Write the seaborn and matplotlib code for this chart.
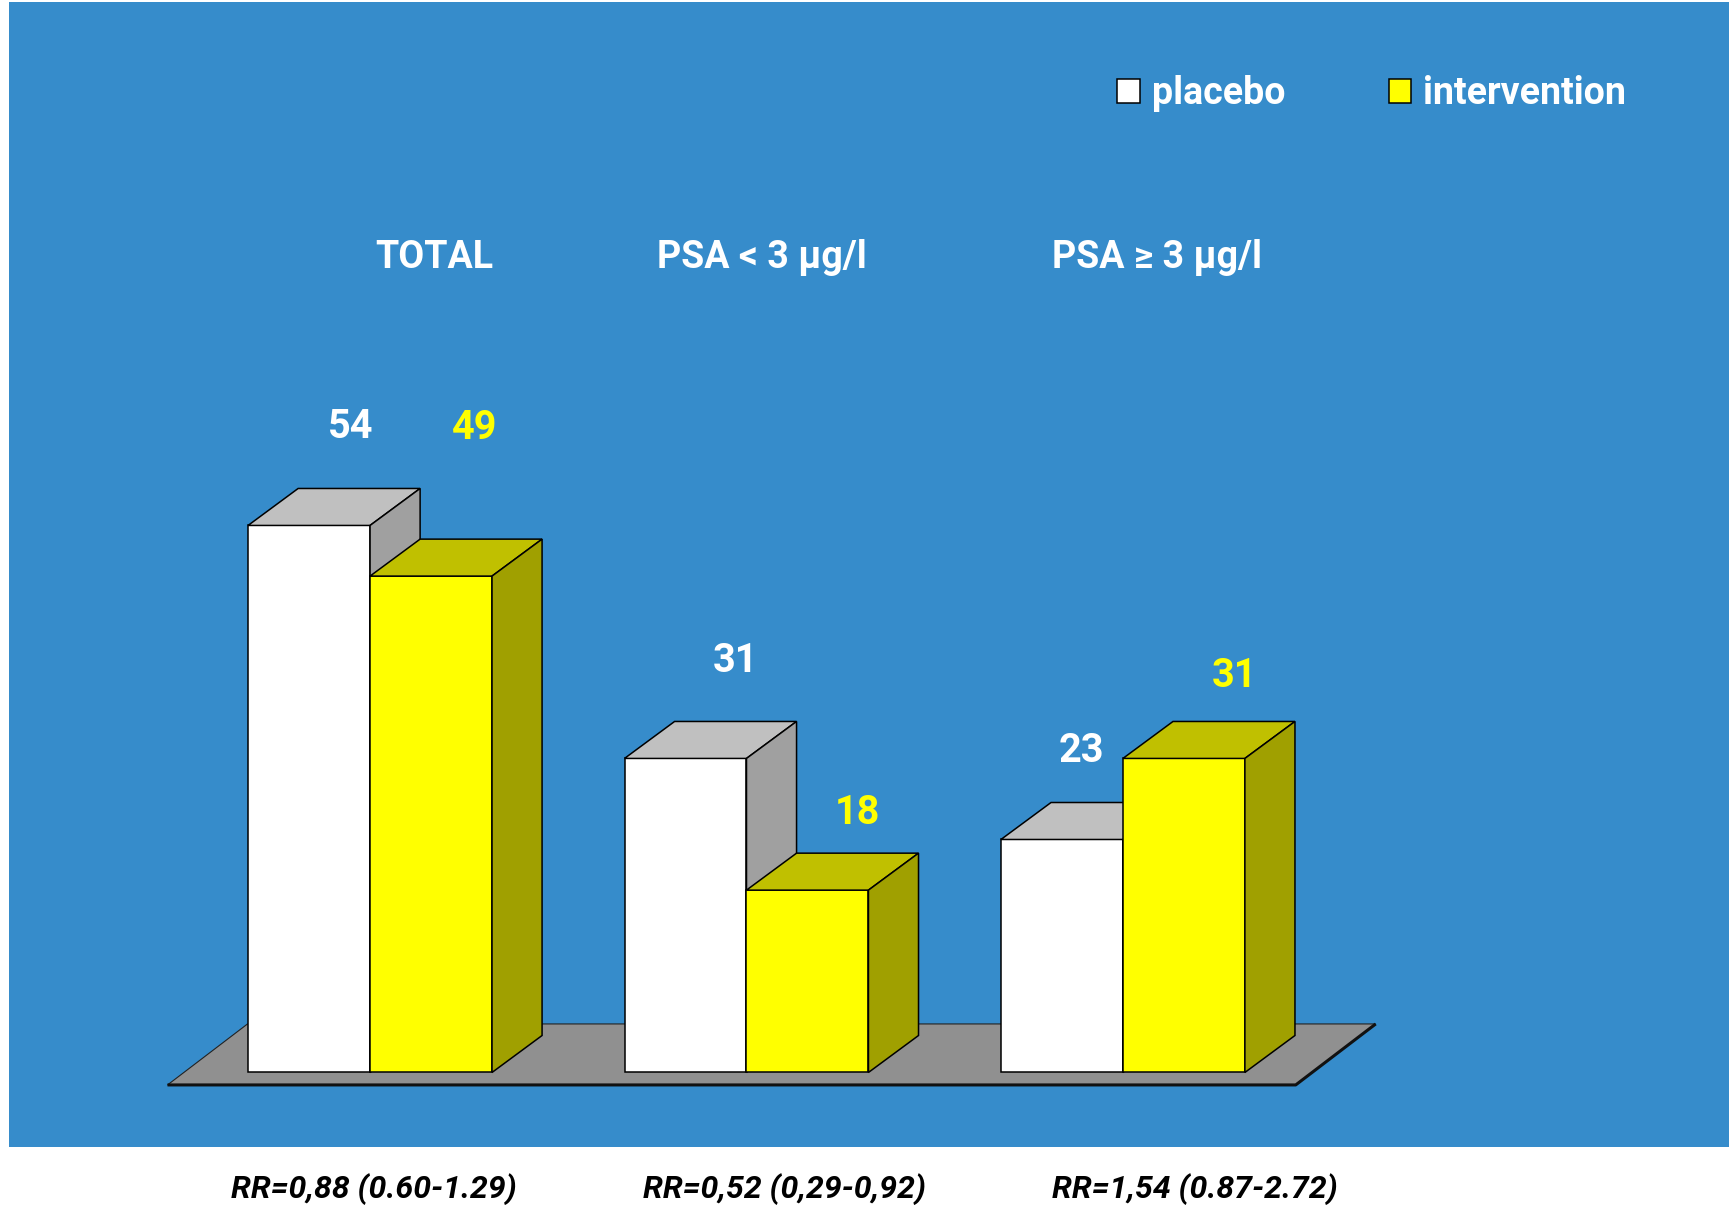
import numpy as np
import pandas as pd
import seaborn as sns
import matplotlib.pyplot as plt
from matplotlib.patches import Polygon, Rectangle

# data
groups = ['TOTAL', 'PSA < 3 µg/l', 'PSA ≥ 3 µg/l']
arms = ['placebo', 'intervention']
placebo = [54, 31, 23]
intervention = [49, 18, 31]
rr_labels = ['RR=0,88 (0.60-1.29)', 'RR=0,52 (0,29-0,92)', 'RR=1,54 (0.87-2.72)']

df = pd.DataFrame({
    'group': groups * 2,
    'arm': ['placebo'] * 3 + ['intervention'] * 3,
    'value': placebo + intervention,
})

# layout / style
FONT = ['Roboto', 'DejaVu Sans']
BLUE = '#368ccb'
colors = {'placebo': '#ffffff', 'intervention': '#ffff00'}
label_colors = {'placebo': 'white', 'intervention': '#ffff00'}
DX, DY = 0.133, 3.65          # fake 3D depth offset (data units)
title_nudge = [0.17, 0.04, 0.09]
rr_nudge = [0.01, 0.10, 0.19]
label_lift = {'placebo': [9.7, 9.6, 8.7], 'intervention': [14.6, 7.6, 8.1]}
label_shift = {'placebo': [-0.023, 0.0, -0.082], 'intervention': [-0.018, 0.0, 0.0]}

W, H = 1729, 1207
fig = plt.figure(figsize=(W / 100, H / 100), dpi=100, facecolor='white')
ax = fig.add_axes([0, 0, 1, 1])

sns.barplot(data=df, x='group', y='value', hue='arm', order=groups,
            hue_order=arms, palette=colors, saturation=1, width=0.648,
            edgecolor='black', linewidth=1.1, ax=ax)

ax.set_xlim(-0.983, 3.610)
ax.set_ylim(-13.28, 105.87)
ax.set_axis_off()

# bars per arm, from the containers seaborn made
bar_sets = {arm: list(c) for arm, c in zip(arms, ax.containers)}
all_bars = sorted([b for c in bar_sets.values() for b in c], key=lambda p: p.get_x())

# blue slide panel
ax.add_patch(Rectangle((9 / W, 1 - 1147 / H), 1 - 9 / W, (1147 - 2) / H,
                       transform=ax.transAxes, facecolor=BLUE,
                       edgecolor='none', zorder=0))

# grey floor under the bars
x_left = all_bars[0].get_x() - 0.214
x_right = all_bars[-1].get_x() + all_bars[-1].get_width() + 0.135
fy0, fy1, fdx = -1.23, 4.79, 0.2125
floor = [(x_left, fy0), (x_right, fy0), (x_right + fdx, fy1), (x_left + fdx, fy1)]
ax.add_patch(Polygon(floor, closed=True, facecolor='#909090',
                     edgecolor='#222222', linewidth=0.8, zorder=1))
ax.plot([x_left, x_right, x_right + fdx], [fy0, fy0, fy1],
        color='#111111', linewidth=2.2, zorder=1.5, solid_capstyle='butt')

# side and top faces of each bar
for k, bar in enumerate(all_bars):
    z = 3 + k * 0.1
    bar.set_zorder(z)
    x0, w, h = bar.get_x(), bar.get_width(), bar.get_height()
    fc = np.array(bar.get_facecolor()[:3])
    top = [(x0, h), (x0 + w, h), (x0 + w + DX, h + DY), (x0 + DX, h + DY)]
    side = [(x0 + w, 0), (x0 + w + DX, DY), (x0 + w + DX, h + DY), (x0 + w, h)]
    ax.add_patch(Polygon(top, closed=True, facecolor=fc * 0.753,
                         edgecolor='black', linewidth=1.1, zorder=z + 0.01))
    ax.add_patch(Polygon(side, closed=True, facecolor=fc * 0.627,
                         edgecolor='black', linewidth=1.1, zorder=z + 0.01))

# value labels
for arm in arms:
    for i, bar in enumerate(bar_sets[arm]):
        v = bar.get_height()
        xc = bar.get_x() + bar.get_width() / 2 + DX + label_shift[arm][i]
        ax.text(xc, v + label_lift[arm][i], f'{v:.0f}', ha='center', va='center',
                color=label_colors[arm], fontsize=28.5, fontweight='bold',
                family=FONT, zorder=10)

# group titles and RR under the panel
for i, g in enumerate(groups):
    ax.text(i + title_nudge[i], 80.5, g, ha='center', va='center',
            color='white', fontsize=27, fontweight='bold', family=FONT)
    ax.text(i + rr_nudge[i], -11.5, rr_labels[i], ha='center', va='center',
            color='black', fontsize=23, fontweight='bold', style='italic',
            family=FONT)

# legend
handles, labels = ax.get_legend_handles_labels()
ax.legend(handles, labels, loc='center left',
          bbox_to_anchor=(1117 / W, 1 - 94 / H), ncol=2, frameon=False,
          labelcolor='white', handlelength=0.61, handleheight=0.61,
          handletextpad=0.32, columnspacing=2.75, borderpad=0,
          borderaxespad=0,
          prop=dict(family=FONT, weight='bold', size=27))

fig.savefig('out.png', dpi=100, facecolor='white')
